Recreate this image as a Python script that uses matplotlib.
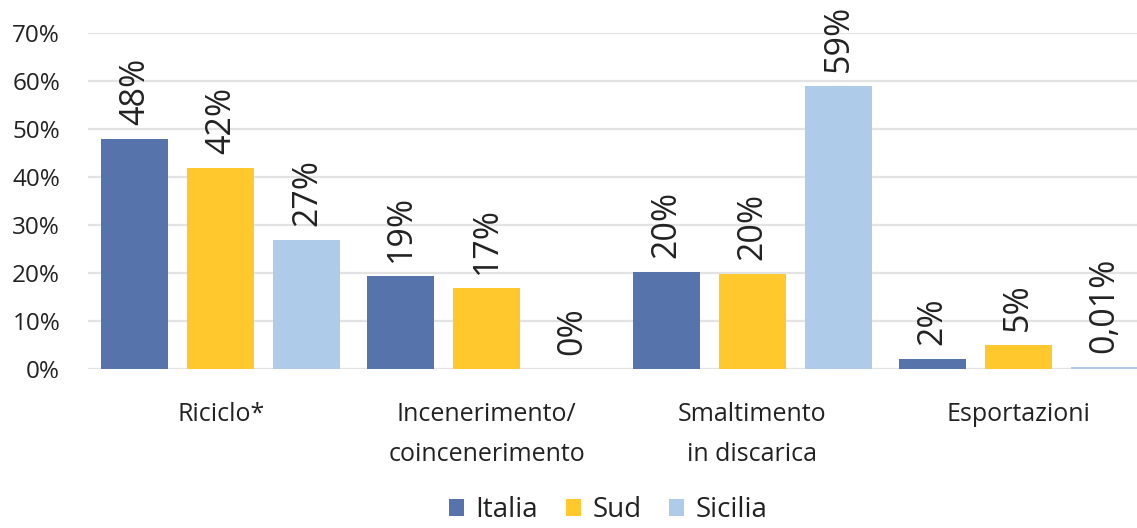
import numpy as np
import matplotlib.pyplot as plt

categories = ["Riciclo*", "Incenerimento/\ncoincenerimento", "Smaltimento\nin discarica", "Esportazioni"]
series = ["Italia", "Sud", "Sicilia"]
italia = [48, 19.5, 20.2, 2.2]
sud = [42, 17, 19.8, 5]
sicilia = [27, 0, 59, 0.4]
labels_italia = ["48%", "19%", "20%", "2%"]
labels_sud = ["42%", "17%", "20%", "5%"]
labels_sicilia = ["27%", "0%", "59%", "0,01%"]
yticks = [0, 10, 20, 30, 40, 50, 60, 70]

colors = ["#5773AB", "#FFC92E", "#AECBE9"]
txt = "#222222"

plt.rcParams['font.family'] = ['Open Sans', 'DejaVu Sans']

fig = plt.figure(figsize=(11.37, 5.28), dpi=100)
ax = fig.add_axes([88 / 1137, 0.301, 1063 / 1137, 0.636])

x = np.arange(len(categories))
w = 0.252
step = 0.324
data = [italia, sud, sicilia]
labs = [labels_italia, labels_sud, labels_sicilia]
for i, (vals, lab) in enumerate(zip(data, labs)):
    pos = x + (i - 1) * step
    ax.bar(pos, vals, w, color=colors[i], label=series[i], zorder=3)
    for p, v, t in zip(pos, vals, lab):
        ax.annotate(t, (p, v), xytext=(0, 10), textcoords="offset points",
                    rotation=90, ha="center", va="bottom", fontsize=24.5, color=txt)

ax.set_ylim(0, 70)
ax.set_xlim(-0.5, 3.5)
ax.set_yticks(yticks)
ax.set_yticklabels([f"{t}%" for t in yticks], fontsize=17.5, color=txt)
ax.set_xticks(x)
ax.set_xticklabels(categories, fontsize=18, color=txt, linespacing=1.75)
ax.tick_params(axis="y", length=0, pad=20)
ax.tick_params(axis="x", length=0, pad=24)
ax.grid(axis="y", color="#E3E3E3", linewidth=1.6, zorder=0)
for s in ax.spines.values():
    s.set_visible(False)

fig.legend(loc="lower center", bbox_to_anchor=(0.535, -0.04), ncol=3, frameon=False,
           fontsize=20, handlelength=0.55, handleheight=0.6,
           handletextpad=0.4, columnspacing=1.0, labelcolor=txt)

fig.savefig("out.png", dpi=100)
